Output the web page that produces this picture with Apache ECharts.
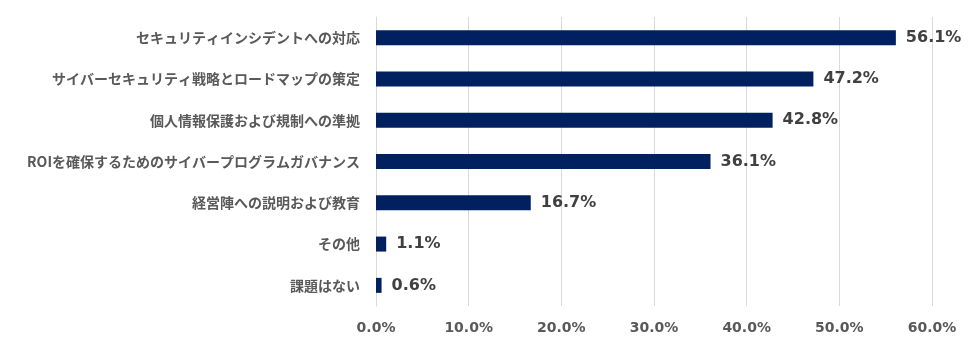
<!DOCTYPE html>
<html>
<head>
<meta charset="utf-8">
<script src="https://cdn.jsdelivr.net/npm/echarts@6/dist/echarts.min.js"></script>
<style>
  html, body { margin: 0; padding: 0; background: #fff; }
  #chart { width: 975px; height: 345px; }
</style>
</head>
<body>
<div id="chart"></div>
<script>
// Categories listed top to bottom
const categories = [
  'セキュリティインシデントへの対応',
  'サイバーセキュリティ戦略とロードマップの策定',
  '個人情報保護および規制への準拠',
  'ROIを確保するためのサイバープログラムガバナンス',
  '経営陣への説明および教育',
  'その他',
  '課題はない'
];
const values = [56.1, 47.2, 42.8, 36.1, 16.7, 1.1, 0.6];
const tickMin = 0;
const tickMax = 60;
const tickStep = 10;

const numFont = "'DejaVu Sans', 'Noto Sans CJK JP', sans-serif";
const jpFont = "'Noto Sans CJK JP', 'DejaVu Sans', sans-serif";

const chart = echarts.init(document.getElementById('chart'));
chart.setOption({
  animation: false,
  backgroundColor: '#ffffff',
  grid: { left: 376, right: 43, top: 17, bottom: 39, containLabel: false },
  xAxis: {
    type: 'value',
    min: tickMin,
    max: tickMax,
    interval: tickStep,
    axisLine: { show: false },
    axisTick: { show: false },
    splitLine: { show: true, lineStyle: { color: '#d9d9d9', width: 1 } },
    axisLabel: {
      margin: 15,
      color: '#595959',
      fontFamily: numFont,
      fontWeight: 'bold',
      fontSize: 14,
      formatter: v => v.toFixed(1) + '%'
    }
  },
  yAxis: {
    type: 'category',
    data: categories,
    inverse: true,
    axisLine: { show: true, lineStyle: { color: '#d9d9d9', width: 1 } },
    axisTick: { show: false },
    axisLabel: {
      margin: 16,
      color: '#595959',
      fontFamily: jpFont,
      fontWeight: 'bold',
      fontSize: 14
    }
  },
  series: [{
    type: 'bar',
    data: values,
    barWidth: 15,
    itemStyle: { color: '#002060' },
    label: {
      show: true,
      position: 'right',
      distance: 10,
      color: '#404040',
      fontFamily: numFont,
      fontWeight: 'bold',
      fontSize: 16,
      formatter: p => p.value.toFixed(1) + '%'
    }
  }]
});
</script>
</body>
</html>
